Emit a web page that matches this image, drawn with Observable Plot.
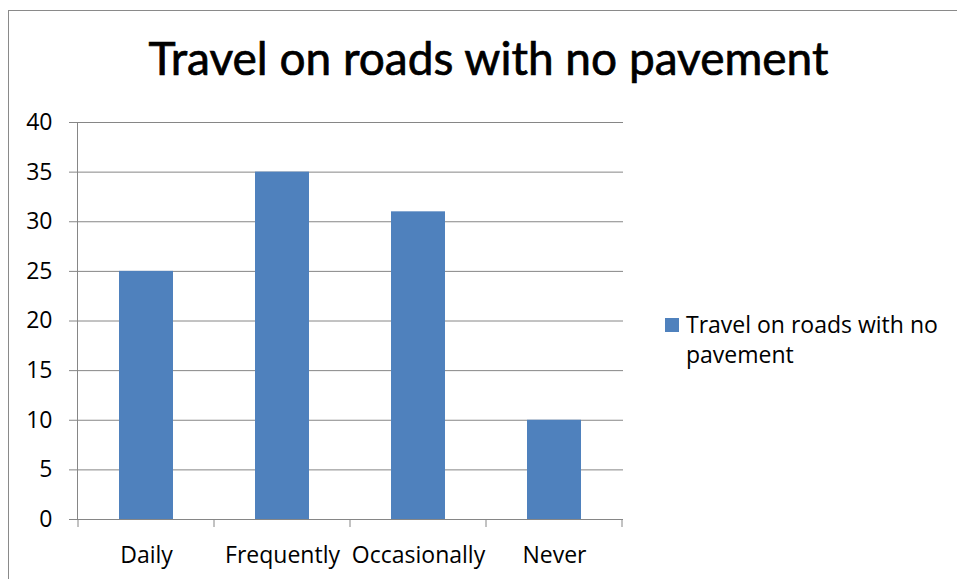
<!DOCTYPE html>
<html><head><meta charset="utf-8">
<script src="https://cdn.jsdelivr.net/npm/d3@7"></script>
<script src="https://cdn.jsdelivr.net/npm/@observablehq/plot@0.6"></script>
<style>
body{margin:0;background:#fff;}
#wrap{position:relative;width:957px;height:579px;overflow:hidden;font-family:"Open Sans",sans-serif;color:#000;}
#border{position:absolute;left:8px;top:10px;width:2000px;height:2000px;border-left:1px solid #8a8a8a;border-top:1px solid #8a8a8a;}
#title{position:absolute;left:10px;width:957px;top:35px;text-align:center;font-family:Lato,sans-serif;font-size:46px;line-height:46px;white-space:nowrap;-webkit-text-stroke:0.7px #000;}
#legend{position:absolute;left:665px;top:309px;font-size:23px;line-height:30px;}
#legend .sw{position:absolute;left:0;top:9px;width:14px;height:14px;background:#4F81BD;}
#legend .tx{margin-left:21px;white-space:nowrap;}
#chart{position:absolute;left:0;top:0;}
</style>
</head><body>
<div id="wrap">
  <div id="border"></div>
  <div id="chart"></div>
  <div id="title">Travel on roads with no pavement</div>
  <div id="legend"><div class="sw"></div><div class="tx">Travel on roads with no<br>pavement</div></div>
</div>
<script>
const categories = ["Daily", "Frequently", "Occasionally", "Never"];
const values = [25, 35, 31, 10];
const yTicks = [0, 5, 10, 15, 20, 25, 30, 35, 40];
const seriesName = "Travel on roads with no pavement";

const data = categories.map((c, i) => ({category: c, value: values[i]}));

function separators(index, scales, vals, dims) {
  const x = scales.x;
  const bw = typeof x.bandwidth === "function" ? x.bandwidth() : x.bandwidth;
  const dom = categories;
  const step = x(dom[1]) - x(dom[0]);
  const gap = step - bw;
  const xs = dom.map(c => x(c) - gap / 2);
  xs.push(x(dom[dom.length - 1]) + bw + gap / 2);
  const y0 = dims.height - dims.marginBottom;
  const g = d3.create("svg:g");
  g.selectAll("line").data(xs).join("line")
    .attr("x1", d => d).attr("x2", d => d)
    .attr("y1", y0).attr("y2", y0 + 8)
    .attr("stroke", "#868686");
  return g.node();
}

const chart = Plot.plot({
  width: 957, height: 579,
  marginLeft: 77, marginRight: 334, marginTop: 122, marginBottom: 60,
  style: {fontFamily: "'Open Sans', sans-serif", fontSize: "23px", color: "#000", background: "transparent"},
  x: {domain: categories, paddingInner: 0.6, paddingOuter: 0.3, label: null},
  y: {domain: [0, 40], label: null},
  marks: [
    Plot.gridY(yTicks, {stroke: "#868686", strokeOpacity: 1}),
    Plot.barY(data, {x: "category", y: "value", fill: "#4F81BD"}),
    Plot.axisY(yTicks, {tickSize: 8, tickPadding: 17, stroke: "#868686", fill: "#000", label: null, fontSize: 23}),
    Plot.axisX({tickSize: 0, tickPadding: 27, fill: "#000", label: null, fontSize: 23}),
    Plot.frame({anchor: "left", stroke: "#868686"}),
    Plot.ruleY([0], {stroke: "#868686"}),
    separators
  ]
});
document.getElementById("chart").appendChild(chart);
</script>
</body></html>
